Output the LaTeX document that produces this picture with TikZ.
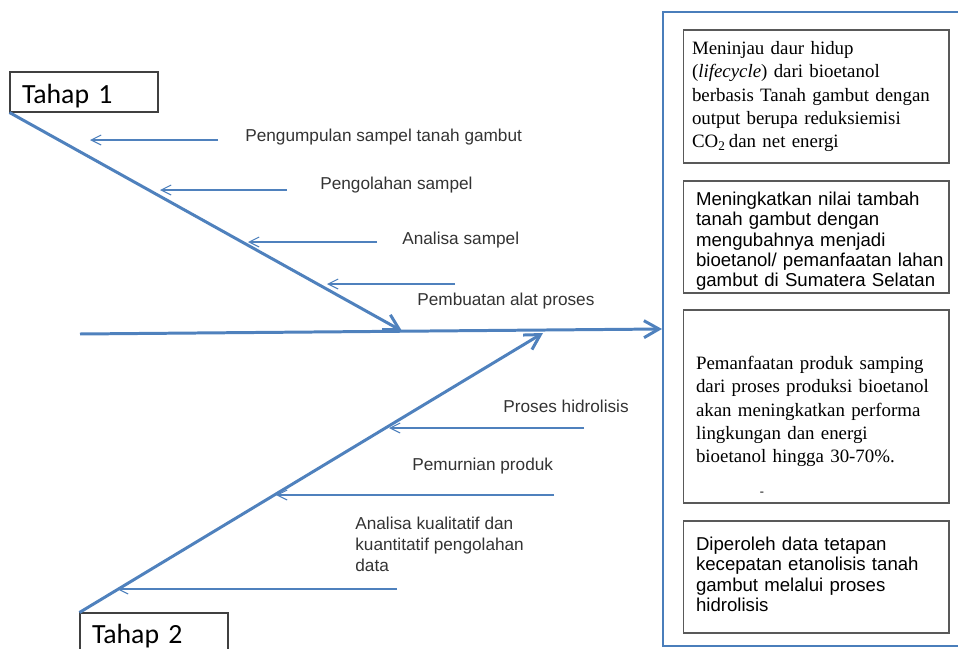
\documentclass[tikz,border=0pt]{standalone}
\usepackage{fontspec}
\setmainfont{Liberation Serif}
\setsansfont{Liberation Sans}
\newfontfamily\tahapfont{Carlito}
\usepackage{xcolor}
\usepackage{tikz}
\usetikzlibrary{arrows.meta}

\definecolor{bonecolor}{HTML}{4F81BD}
\definecolor{framecolor}{HTML}{4A7EBB}
\definecolor{labelgray}{HTML}{333333}
\definecolor{boxgray}{HTML}{595959}

% lines of a box, with extra room above the first line
\newcommand{\toproom}[1]{\rule{0pt}{\dimexpr\ht\strutbox+#1\relax}}
\newcommand{\boxlines}[2][0pt]{\begin{tabular}{@{}l@{}}\toproom{#1}#2\end{tabular}}

\begin{document}
\begin{tikzpicture}[
    x=0.02cm, y=-0.02cm,
    tahapbox/.style={rectangle, draw=black!75, line width=0.6pt, minimum width=2.96cm, text width=2.48cm, inner xsep=0.24cm, inner ysep=0pt, align=left, font=\tahapfont\fontsize{15.8}{18}\selectfont},
    goalframe/.style={rectangle, draw=framecolor, line width=1.2pt, minimum width=6.04cm, minimum height=12.68cm, inner sep=0pt},
    resultbox/.style={rectangle, draw=boxgray, line width=0.6pt, inner xsep=0.26cm, inner ysep=0pt, text width=4.8cm, align=left},
    serifbox/.style={resultbox, font=\rmfamily\fontsize{10.75}{13.3}\selectfont},
    sansbox/.style={resultbox, font=\sffamily\fontsize{10.6}{11.6}\selectfont},
    causelabel/.style={inner sep=0pt, anchor=west, align=left, text=labelgray, font=\sffamily\fontsize{9.8}{11.9}\selectfont},
    bone/.style={draw=bonecolor, line width=1.7pt, -{Straight Barb[length=3mm, width=3.4mm]}},
    arrow/.style={draw=bonecolor, line width=0.6pt, -{Straight Barb[length=2mm, width=2mm]}}
]
\useasboundingbox (0,0) rectangle (958,649);

% Stages
\node[tahapbox, minimum height=0.8cm] (tahap1) at (84,92) {\toproom{0.12cm}Tahap 1};
\node[tahapbox, minimum height=0.92cm] (tahap2) at (154,636) {Tahap 2};

% Result frame and boxes
\node[goalframe] (goal) at (814,329) {};
\node[serifbox, inner xsep=0.18cm, text width=4.96cm, minimum height=2.66cm] (aim1) at (816,96.5) {\boxlines{Meninjau daur hidup\\ (\textit{lifecycle}) dari bioetanol\\ berbasis Tanah gambut dengan\\ output berupa reduksiemisi\\ CO\textsubscript{2}\,dan net energi}};
\node[sansbox, minimum height=2.24cm] (aim2) at (816,237) {\boxlines[0.2cm]{Meningkatkan nilai tambah\\ tanah gambut dengan\\ mengubahnya menjadi\\ bioetanol/ pemanfaatan lahan\\ gambut di Sumatera Selatan}};
\node[serifbox, minimum height=3.86cm] (aim3) at (816,406.5) {\boxlines[0.2cm]{Pemanfaatan produk samping\\ dari proses produksi bioetanol\\ akan meningkatkan performa\\ lingkungan dan energi\\ bioetanol hingga 30-70\%.}};
\node[inner sep=0pt, font=\rmfamily\fontsize{7}{7}\selectfont] (dash) at (762,494) {-};
\node[sansbox, minimum height=2.24cm] (aim4) at (816,577) {\boxlines{Diperoleh data tetapan\\ kecepatan etanolisis tanah\\ gambut melalui proses\\ hidrolisis}};

% Bones
\coordinate (spinetail) at (80,334);
\coordinate (head1) at (402,331);
\coordinate (head2) at (543,333);
\draw[bone] (spinetail) -- (goal.west);
\draw[bone] (tahap1.south west) -- (head1);
\draw[bone] (tahap2.north west) -- (head2);

% Causes of stage 1
\node[causelabel] (c1) at (245,137) {Pengumpulan sampel tanah gambut};
\node[causelabel] (c2) at (320,185) {Pengolahan sampel};
\node[causelabel] (c3) at (402,240) {Analisa sampel};
\node[causelabel] (c4) at (417,301) {Pembuatan alat proses};
\coordinate (c1s) at (218,140); \coordinate (c1e) at (90,140);
\coordinate (c2s) at (287,190); \coordinate (c2e) at (160,190);
\coordinate (c3s) at (377,242); \coordinate (c3e) at (248,242);
\coordinate (c4s) at (455,284); \coordinate (c4e) at (327,284);
\draw[arrow] (c1s) -- (c1e);
\draw[arrow] (c2s) -- (c2e);
\draw[arrow] (c3s) -- (c3e);
\draw[arrow] (c4s) -- (c4e);

% Causes of stage 2
\node[causelabel] (c5) at (503,406) {Proses hidrolisis};
\node[causelabel] (c6) at (412,466) {Pemurnian produk};
\node[causelabel] (c7) at (355,544) {Analisa kualitatif dan\\ kuantitatif pengolahan\\ data};
\coordinate (c5s) at (584,428); \coordinate (c5e) at (389,428);
\coordinate (c6s) at (554,495); \coordinate (c6e) at (276,495);
\coordinate (c7s) at (397,589); \coordinate (c7e) at (117,589);
\draw[arrow] (c5s) -- (c5e);
\draw[arrow] (c6s) -- (c6e);
\draw[arrow] (c7s) -- (c7e);

\end{tikzpicture}
\end{document}
